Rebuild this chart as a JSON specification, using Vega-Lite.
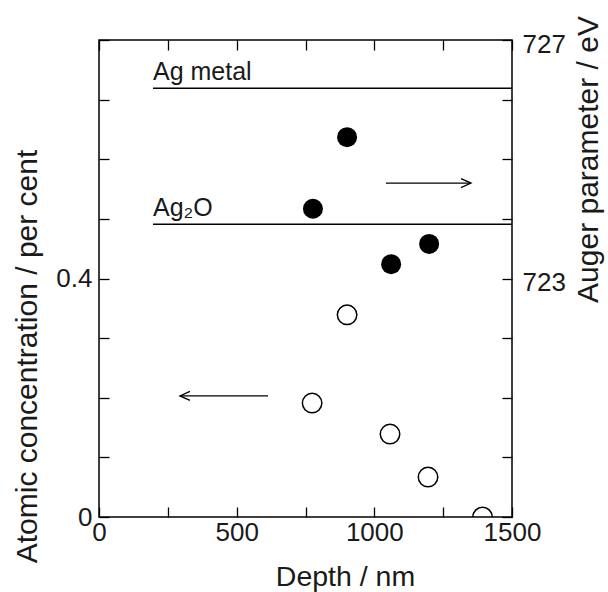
{
  "$schema": "https://vega.github.io/schema/vega-lite/v6.json",
  "autosize": {"type": "none"},
  "padding": {"left": 99, "top": 40, "right": 96, "bottom": 75},
  "width": 413,
  "height": 477,
  "background": "white",
  "config": {
    "font": "Liberation Sans",
    "view": {"stroke": "black", "strokeWidth": 1.5},
    "axis": {
      "grid": false,
      "domain": false,
      "tickColor": "black",
      "tickWidth": 1.3,
      "tickSize": -10,
      "labelColor": "#1a1a1a",
      "labelFontSize": 26,
      "labelFont": "Liberation Sans",
      "labelFlush": false,
      "labelOverlap": false,
      "titleFont": "Liberation Sans",
      "titleFontSize": 29,
      "titleFontWeight": "normal",
      "titleColor": "#1a1a1a"
    }
  },
  "datasets": {
    "concentration": [
      {"depth": 774, "conc": 0.191},
      {"depth": 901, "conc": 0.339},
      {"depth": 1057, "conc": 0.139},
      {"depth": 1195, "conc": 0.067},
      {"depth": 1393, "conc": 0.0}
    ],
    "auger": [
      {"depth": 777, "auger": 724.17},
      {"depth": 901, "auger": 725.37},
      {"depth": 1061, "auger": 723.24},
      {"depth": 1199, "auger": 723.58}
    ],
    "references": [
      {"label": "Ag metal", "start": 196, "end": 1500, "auger": 726.19},
      {"label": "Ag₂O", "start": 196, "end": 1500, "auger": 723.91}
    ],
    "left_arrow": [{"tail": 614, "head": 294, "conc": 0.203}],
    "right_arrow": [{"tail": 1042, "head": 1351, "auger": 724.6}]
  },
  "layer": [
    {
      "data": {"name": "concentration"},
      "mark": {"type": "point", "shape": "circle", "filled": false, "stroke": "black", "strokeWidth": 1.5, "size": 380, "opacity": 1, "clip": true},
      "encoding": {
        "x": {
          "field": "depth", "type": "quantitative",
          "scale": {"domain": [0, 1500], "nice": false, "zero": false},
          "axis": {
            "orient": "bottom",
            "values": [0, 250, 500, 750, 1000, 1250, 1500],
            "format": "d",
            "labelExpr": "datum.value % 500 === 0 ? datum.label : ''",
            "labelPadding": 12,
            "labelBaseline": "top",
            "title": "Depth / nm",
            "titleFontSize": 28.5,
            "titleX": 246,
            "titleY": 68,
            "titleAlign": "center",
            "titleBaseline": "alphabetic"
          }
        },
        "y": {
          "field": "conc", "type": "quantitative",
          "scale": {"domain": [0, 0.8], "nice": false, "zero": false},
          "axis": {
            "orient": "left",
            "values": [0, 0.1, 0.2, 0.3, 0.4, 0.5, 0.6, 0.7, 0.8],
            "labelExpr": "datum.value === 0 ? '0' : (abs(datum.value - 0.4) < 0.000001 ? '0.4' : '')",
            "labelPadding": 17,
            "title": "Atomic concentration / per cent",
            "titleFontSize": 30,
            "titleAngle": 270,
            "titleX": -63,
            "titleY": 316,
            "titleAlign": "center",
            "titleBaseline": "alphabetic"
          }
        }
      }
    },
    {
      "data": {"name": "left_arrow"},
      "mark": {"type": "rule", "stroke": "black", "strokeWidth": 1.3},
      "encoding": {
        "x": {"field": "tail", "type": "quantitative", "scale": {"domain": [0, 1500], "nice": false, "zero": false}, "axis": null},
        "x2": {"field": "head"},
        "y": {"field": "conc", "type": "quantitative", "scale": {"domain": [0, 0.8], "nice": false, "zero": false}, "axis": null}
      }
    },
    {
      "data": {"name": "left_arrow"},
      "mark": {"type": "point", "shape": "M 2 -0.9 L 0 0 L 2 0.9", "filled": false, "stroke": "black", "strokeWidth": 1.3, "size": 100, "opacity": 1},
      "encoding": {
        "x": {"field": "head", "type": "quantitative", "scale": {"domain": [0, 1500], "nice": false, "zero": false}, "axis": null},
        "y": {"field": "conc", "type": "quantitative", "scale": {"domain": [0, 0.8], "nice": false, "zero": false}, "axis": null}
      }
    },
    {
      "data": {"name": "auger"},
      "mark": {"type": "point", "shape": "circle", "filled": true, "fill": "black", "stroke": "black", "strokeWidth": 0, "size": 400, "opacity": 1},
      "encoding": {
        "x": {
          "field": "depth", "type": "quantitative",
          "scale": {"domain": [0, 1500], "nice": false, "zero": false},
          "axis": {
            "orient": "top",
            "values": [0, 250, 500, 750, 1000, 1250, 1500],
            "labels": false,
            "title": null
          }
        },
        "y": {
          "field": "auger", "type": "quantitative",
          "scale": {"domain": [719, 727], "nice": false, "zero": false},
          "axis": {
            "orient": "right",
            "values": [719, 720, 721, 722, 723, 724, 725, 726, 727],
            "format": "d",
            "labelExpr": "datum.value === 723 || datum.value === 727 ? datum.label : ''",
            "labelPadding": 20,
            "labelOffset": 4,
            "title": "Auger parameter / eV",
            "titleFontSize": 30,
            "titleAngle": 270,
            "titleX": 85,
            "titleY": 119,
            "titleAlign": "center",
            "titleBaseline": "alphabetic"
          }
        }
      }
    },
    {
      "data": {"name": "references"},
      "mark": {"type": "rule", "stroke": "black", "strokeWidth": 1.5},
      "encoding": {
        "x": {"field": "start", "type": "quantitative", "scale": {"domain": [0, 1500], "nice": false, "zero": false}, "axis": null},
        "x2": {"field": "end"},
        "y": {"field": "auger", "type": "quantitative", "scale": {"domain": [719, 727], "nice": false, "zero": false}, "axis": null}
      }
    },
    {
      "data": {"name": "references"},
      "mark": {"type": "text", "align": "left", "baseline": "alphabetic", "dy": -8, "fontSize": 25, "font": "Liberation Sans", "color": "#1a1a1a"},
      "encoding": {
        "x": {"field": "start", "type": "quantitative", "scale": {"domain": [0, 1500], "nice": false, "zero": false}, "axis": null},
        "y": {"field": "auger", "type": "quantitative", "scale": {"domain": [719, 727], "nice": false, "zero": false}, "axis": null},
        "text": {"field": "label"}
      }
    },
    {
      "data": {"name": "right_arrow"},
      "mark": {"type": "rule", "stroke": "black", "strokeWidth": 1.3},
      "encoding": {
        "x": {"field": "tail", "type": "quantitative", "scale": {"domain": [0, 1500], "nice": false, "zero": false}, "axis": null},
        "x2": {"field": "head"},
        "y": {"field": "auger", "type": "quantitative", "scale": {"domain": [719, 727], "nice": false, "zero": false}, "axis": null}
      }
    },
    {
      "data": {"name": "right_arrow"},
      "mark": {"type": "point", "shape": "M -2 -0.9 L 0 0 L -2 0.9", "filled": false, "stroke": "black", "strokeWidth": 1.3, "size": 100, "opacity": 1},
      "encoding": {
        "x": {"field": "head", "type": "quantitative", "scale": {"domain": [0, 1500], "nice": false, "zero": false}, "axis": null},
        "y": {"field": "auger", "type": "quantitative", "scale": {"domain": [719, 727], "nice": false, "zero": false}, "axis": null}
      }
    }
  ],
  "resolve": {"scale": {"y": "independent"}, "axis": {"x": "independent", "y": "independent"}}
}
